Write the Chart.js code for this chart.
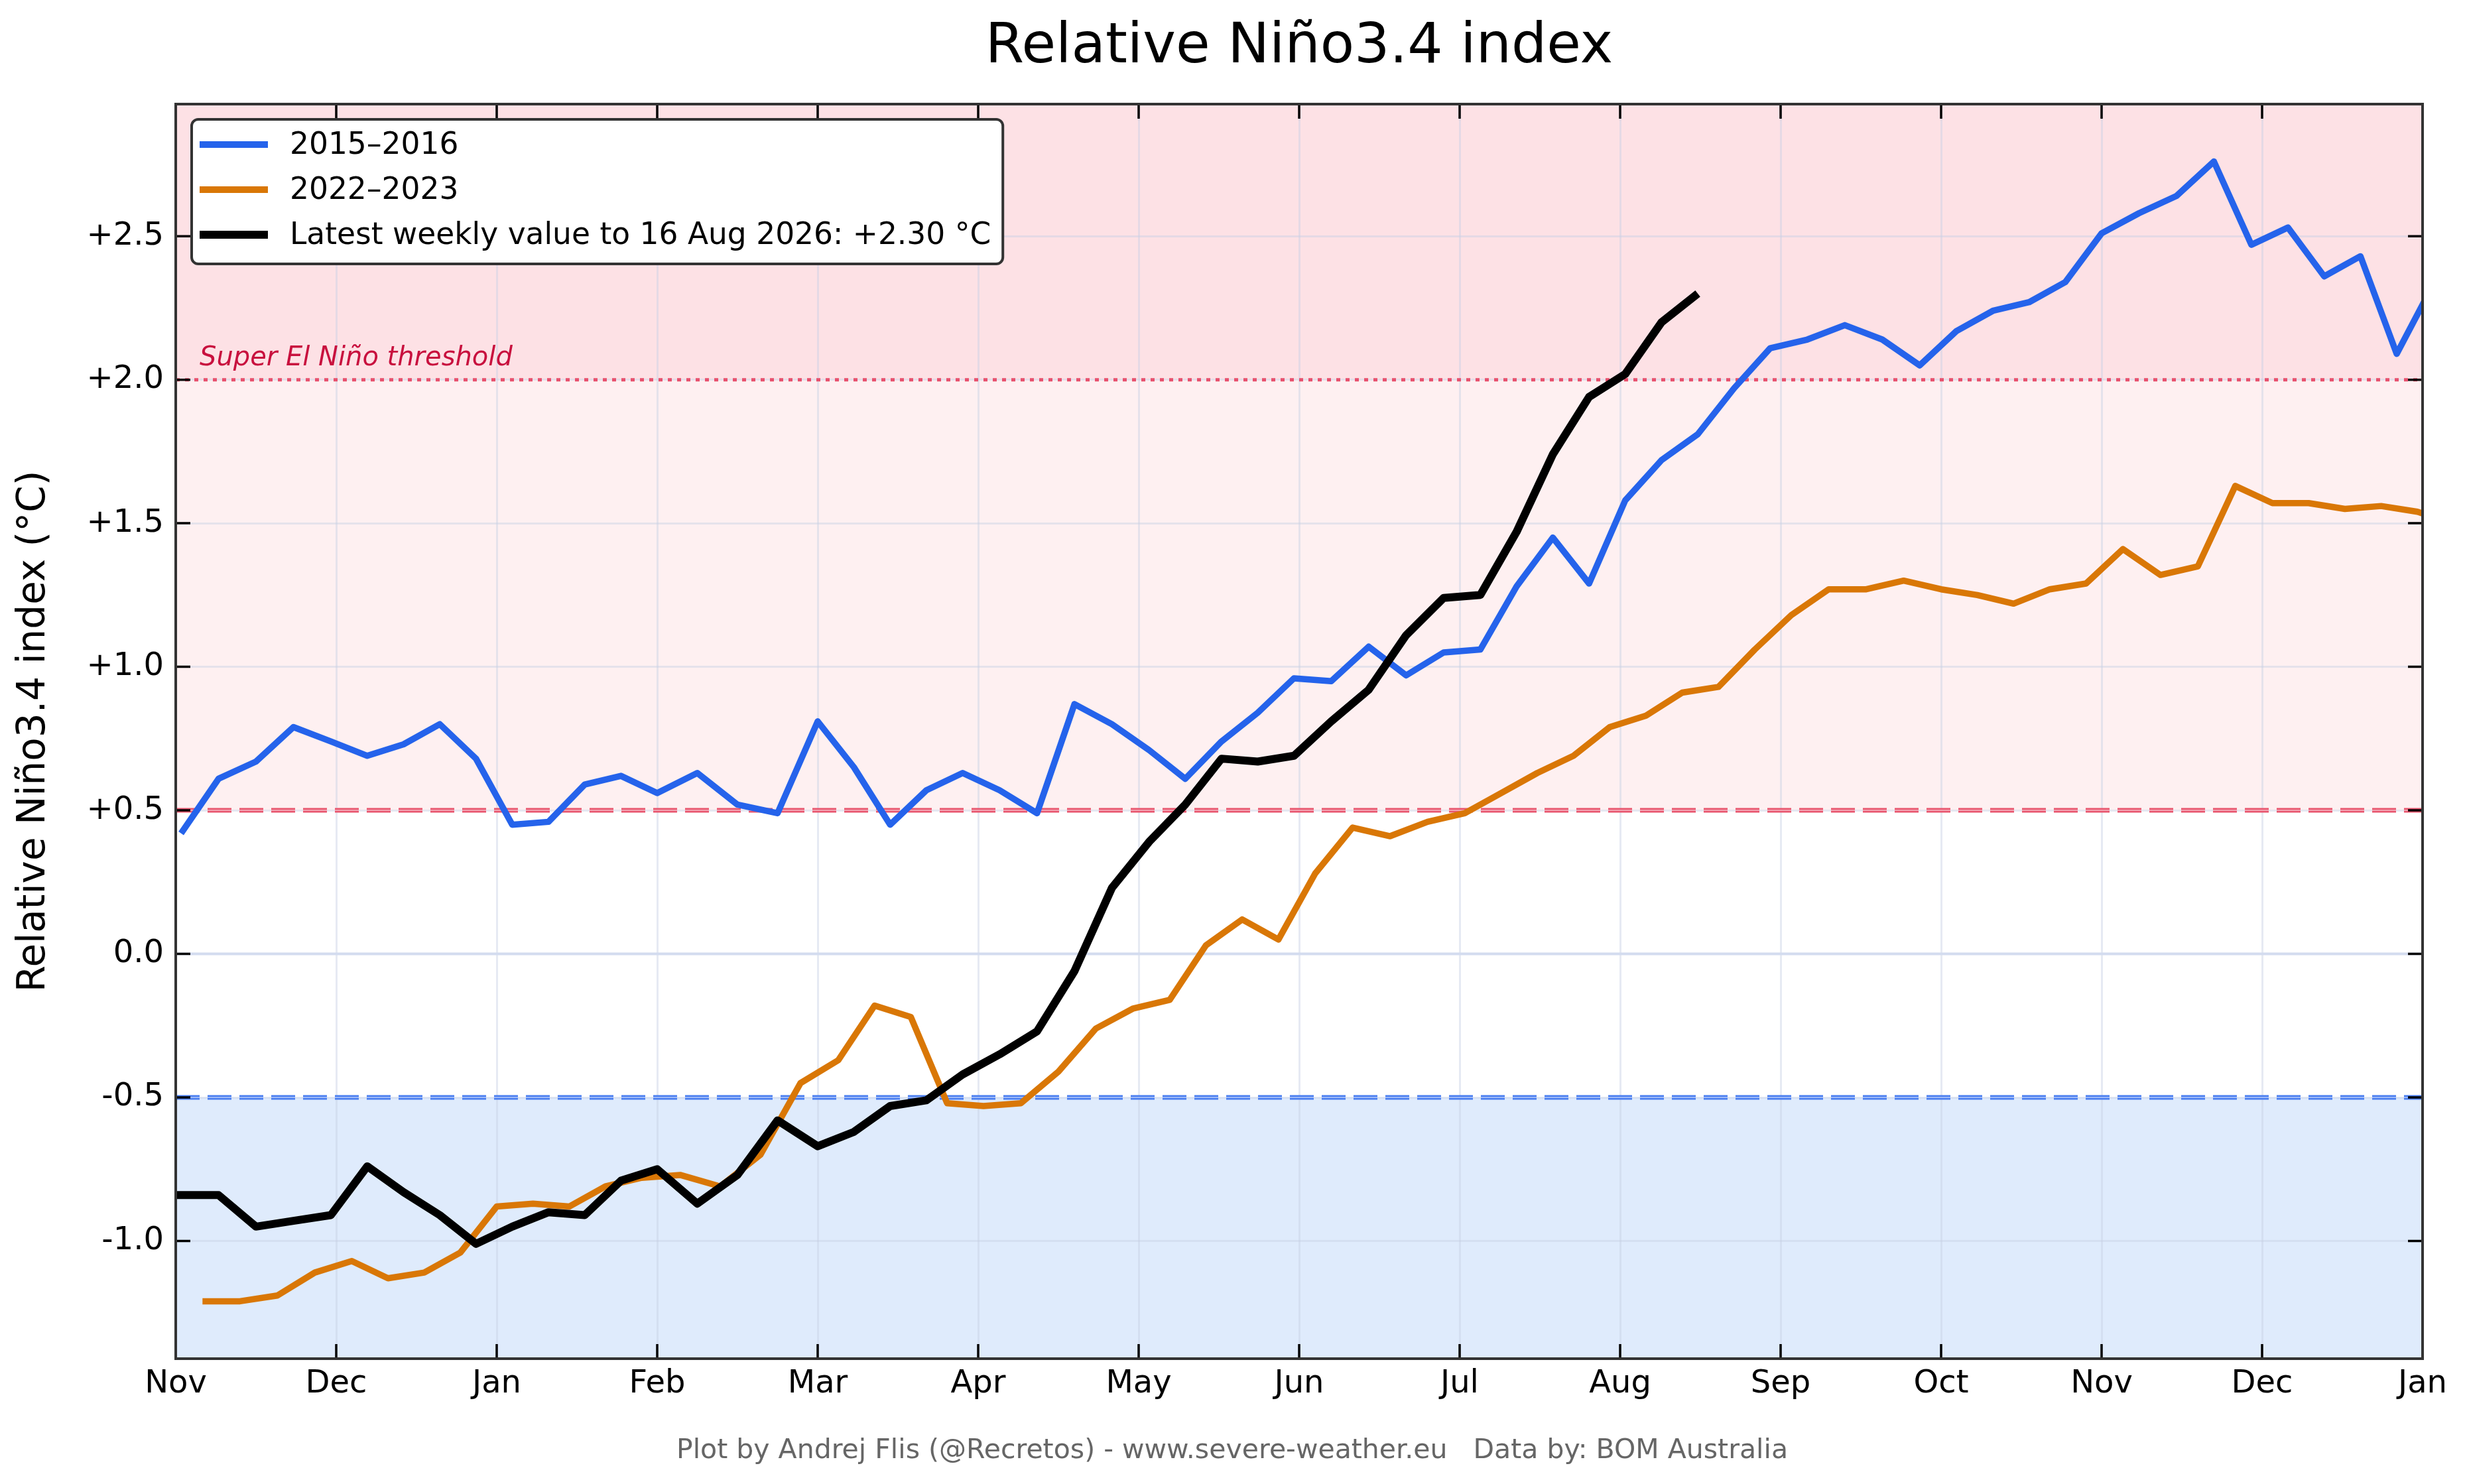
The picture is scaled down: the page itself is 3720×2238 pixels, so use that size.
<!DOCTYPE html>
<html>
<head>
<meta charset="utf-8">
<title>Relative Niño3.4 index</title>
<script src="https://cdn.jsdelivr.net/npm/chart.js@4.4.1/dist/chart.umd.min.js"></script>
<style>
  html, body { margin: 0; padding: 0; background: #ffffff; }
  canvas { display: block; }
</style>
</head>
<body>
<canvas id="ninoChart" width="3720" height="2238"></canvas>
<script>
// x axis: 0 = 1 Nov, 14 = 1 Jan of the following year (every month same width)
const monthLabels = ["Nov", "Dec", "Jan", "Feb", "Mar", "Apr", "May", "Jun", "Jul", "Aug", "Sep", "Oct", "Nov", "Dec", "Jan"];
const yTickValues = [-1.0, -0.5, 0.0, 0.5, 1.0, 1.5, 2.0, 2.5];

// first week of each series, put on the 2025/26 season calendar (day of year)
const start2015 = "2025-11-02";
const start2022 = "2025-11-06";
const startLatest = "2025-10-26";

// weekly values (°C)
const values2015 = [
  0.42, 0.61, 0.67, 0.79, 0.74, 0.69, 0.73, 0.80, 0.68, 0.45, 0.46, 0.59, 0.62,
  0.56, 0.63, 0.52, 0.49, 0.81, 0.65, 0.45, 0.57, 0.63, 0.57, 0.49, 0.87, 0.80,
  0.71, 0.61, 0.74, 0.84, 0.96, 0.95, 1.07, 0.97, 1.05, 1.06, 1.28, 1.45, 1.29,
  1.58, 1.72, 1.81, 1.97, 2.11, 2.14, 2.19, 2.14, 2.05, 2.17, 2.24, 2.27, 2.34,
  2.51, 2.58, 2.64, 2.76, 2.47, 2.53, 2.36, 2.43, 2.09, 2.33
];
const values2022 = [
  -1.21, -1.21, -1.19, -1.11, -1.07, -1.13, -1.11, -1.04, -0.88, -0.87, -0.88, -0.81, -0.78,
  -0.77, -0.81, -0.70, -0.45, -0.37, -0.18, -0.22, -0.52, -0.53, -0.52, -0.41, -0.26, -0.19,
  -0.16, 0.03, 0.12, 0.05, 0.28, 0.44, 0.41, 0.46, 0.49, 0.56, 0.63, 0.69, 0.79,
  0.83, 0.91, 0.93, 1.06, 1.18, 1.27, 1.27, 1.30, 1.27, 1.25, 1.22, 1.27, 1.29,
  1.41, 1.32, 1.35, 1.63, 1.57, 1.57, 1.55, 1.56, 1.54, 1.50
];
const valuesLatest = [
  -0.84, -0.84, -0.84, -0.95, -0.93, -0.91, -0.74, -0.83, -0.91, -1.01, -0.95, -0.90, -0.91,
  -0.79, -0.75, -0.87, -0.77, -0.58, -0.67, -0.62, -0.53, -0.51, -0.42, -0.35, -0.27, -0.06,
  0.23, 0.39, 0.52, 0.68, 0.67, 0.69, 0.81, 0.92, 1.11, 1.24, 1.25, 1.47, 1.74,
  1.94, 2.02, 2.20, 2.30
];

const seriesLabels = ["2015\u20132016", "2022\u20132023", "Latest weekly value to 16 Aug 2026: +2.30 \u00b0C"];
const seriesColors = ["#2563eb", "#d97706", "#000000"];

const chartTitle = "Relative Ni\u00f1o3.4 index";
const footerText = "Plot by Andrej Flis (@Recretos) - www.severe-weather.eu   Data by: BOM Australia";

// date -> position in months from 1 Nov 2025
const toMonthPos = (date) => {
  const months = (date.getUTCFullYear() - 2025) * 12 + date.getUTCMonth() - 10;
  const daysInMonth = new Date(Date.UTC(date.getUTCFullYear(), date.getUTCMonth() + 1, 0)).getUTCDate();
  return months + (date.getUTCDate() - 1) / daysInMonth;
};

const weeklyPoints = (start, values) => {
  const t0 = Date.parse(start + "T00:00:00Z");
  return values.map((v, i) => ({ x: toMonthPos(new Date(t0 + i * 7 * 86400000)), y: v }));
};

Chart.defaults.font.family = "'DejaVu Sans', sans-serif";
Chart.defaults.color = "#000000";

// bands, threshold lines, inward ticks, frame, legend, title and footer
const ninoDecor = {
  id: "ninoDecor",
  beforeDraw(chart) {
    const { ctx, chartArea: a, scales: { y } } = chart;
    ctx.save();
    ctx.fillStyle = "#ffffff";
    ctx.fillRect(0, 0, chart.width, chart.height);
    const band = (from, to, color) => {
      const top = y.getPixelForValue(to);
      const bottom = y.getPixelForValue(from);
      ctx.fillStyle = color;
      ctx.fillRect(a.left, top, a.right - a.left, bottom - top);
    };
    band(2.0, y.max, "#fde1e5");
    band(0.5, 2.0, "#fef0f1");
    band(y.min, -0.5, "#dfebfc");
    ctx.restore();
  },
  beforeDatasetsDraw(chart) {
    const { ctx, chartArea: a, scales: { y } } = chart;
    const hline = (value, color, width, dash) => {
      const py = y.getPixelForValue(value);
      ctx.save();
      ctx.beginPath();
      ctx.setLineDash(dash);
      ctx.strokeStyle = color;
      ctx.lineWidth = width;
      ctx.moveTo(a.left, py);
      ctx.lineTo(a.right, py);
      ctx.stroke();
      ctx.restore();
    };
    hline(0, "#d3dcef", 4, []);
    hline(0.5, "#e8566f", 7, [36, 12]);
    hline(0.5, "rgba(255,255,255,0.45)", 2, [36, 12]);
    hline(-0.5, "#4a7ef0", 7, [36, 12]);
    hline(-0.5, "rgba(255,255,255,0.45)", 2, [36, 12]);
    hline(2.0, "#e8506c", 5, [6, 8]);

    ctx.save();
    ctx.font = "italic 40px 'DejaVu Sans'";
    ctx.fillStyle = "#c8103e";
    ctx.textBaseline = "alphabetic";
    ctx.fillText("Super El Ni\u00f1o threshold", a.left + 36, y.getPixelForValue(2.0) - 22);
    ctx.restore();
  },
  afterDatasetsDraw(chart) {
    const { ctx, chartArea: a, scales: { x, y } } = chart;
    const len = 22;
    ctx.save();
    ctx.strokeStyle = "#000000";
    ctx.lineWidth = 3.5;
    ctx.beginPath();
    monthLabels.forEach((m, i) => {
      const px = x.getPixelForValue(i);
      ctx.moveTo(px, a.bottom);
      ctx.lineTo(px, a.bottom - len);
      ctx.moveTo(px, a.top);
      ctx.lineTo(px, a.top + len);
    });
    yTickValues.forEach((v) => {
      const py = y.getPixelForValue(v);
      ctx.moveTo(a.left, py);
      ctx.lineTo(a.left + len, py);
      ctx.moveTo(a.right, py);
      ctx.lineTo(a.right - len, py);
    });
    ctx.stroke();

    ctx.strokeStyle = "#333333";
    ctx.lineWidth = 4;
    ctx.strokeRect(a.left, a.top, a.right - a.left, a.bottom - a.top);

    // legend box, top left inside the plot
    ctx.font = "45.5px 'DejaVu Sans'";
    const textW = Math.max(...seriesLabels.map((t) => ctx.measureText(t).width));
    const boxX = a.left + 24, boxY = a.top + 23;
    const textX = boxX + 148;
    const boxW = textX - boxX + textW + 18, boxH = 218;
    ctx.beginPath();
    ctx.roundRect(boxX, boxY, boxW, boxH, 10);
    ctx.fillStyle = "#ffffff";
    ctx.fill();
    ctx.lineWidth = 4;
    ctx.strokeStyle = "#333333";
    ctx.stroke();
    ctx.textBaseline = "middle";
    seriesLabels.forEach((label, i) => {
      const rowY = boxY + 38 + i * 68;
      ctx.beginPath();
      ctx.strokeStyle = seriesColors[i];
      ctx.lineWidth = i === 2 ? 12 : 10;
      ctx.moveTo(boxX + 12, rowY);
      ctx.lineTo(boxX + 115, rowY);
      ctx.stroke();
      ctx.fillStyle = "#000000";
      ctx.fillText(label, textX, rowY + 2);
    });

    // title centred over the plot, footer centred on the page
    ctx.textAlign = "center";
    ctx.textBaseline = "alphabetic";
    ctx.fillStyle = "#000000";
    ctx.font = "84px 'DejaVu Sans'";
    ctx.fillText(chartTitle, (a.left + a.right) / 2, 94);
    ctx.fillStyle = "#666666";
    ctx.font = "41px 'DejaVu Sans'";
    ctx.fillText(footerText, 1858, 2199);
    ctx.restore();
  }
};

new Chart(document.getElementById("ninoChart"), {
  type: "line",
  data: {
    datasets: [
      {
        label: seriesLabels[0],
        data: weeklyPoints(start2015, values2015),
        borderColor: seriesColors[0],
        borderWidth: 9.5,
        order: 2
      },
      {
        label: seriesLabels[1],
        data: weeklyPoints(start2022, values2022),
        borderColor: seriesColors[1],
        borderWidth: 9.5,
        order: 1
      },
      {
        label: seriesLabels[2],
        data: weeklyPoints(startLatest, valuesLatest),
        borderColor: seriesColors[2],
        borderWidth: 12,
        order: 0
      }
    ]
  },
  options: {
    responsive: false,
    devicePixelRatio: 1,
    animation: false,
    events: [],
    layout: { padding: { left: 0, right: 67, top: 157, bottom: 0 } },
    elements: {
      point: { radius: 0 },
      line: { tension: 0, borderJoinStyle: "round", borderCapStyle: "butt", fill: false }
    },
    plugins: {
      legend: { display: false },
      tooltip: { enabled: false },
      title: { display: false }
    },
    scales: {
      x: {
        type: "linear",
        min: 0,
        max: 14,
        afterBuildTicks: (scale) => {
          scale.ticks = monthLabels.map((m, i) => ({ value: i }));
        },
        afterFit: (scale) => { scale.height = 189; },
        ticks: {
          autoSkip: false,
          maxRotation: 0,
          padding: 10,
          font: { size: 48 },
          callback: (value) => monthLabels[value]
        },
        grid: { color: "rgba(200,208,228,0.45)", lineWidth: 3, drawTicks: false },
        border: { display: false }
      },
      y: {
        type: "linear",
        min: -1.41,
        max: 2.96,
        afterBuildTicks: (scale) => {
          scale.ticks = yTickValues.map((v) => ({ value: v }));
        },
        afterFit: (scale) => { scale.width = 265; },
        ticks: {
          padding: 18,
          font: { size: 48 },
          callback: (value) => (value > 0 ? "+" : "") + value.toFixed(1)
        },
        grid: { color: "rgba(200,208,228,0.45)", lineWidth: 3, drawTicks: false },
        border: { display: false },
        title: {
          display: true,
          text: "Relative Ni\u00f1o3.4 index (\u00b0C)",
          font: { size: 58 },
          padding: { top: 17, bottom: 0 }
        }
      }
    }
  },
  plugins: [ninoDecor]
});
</script>
</body>
</html>
